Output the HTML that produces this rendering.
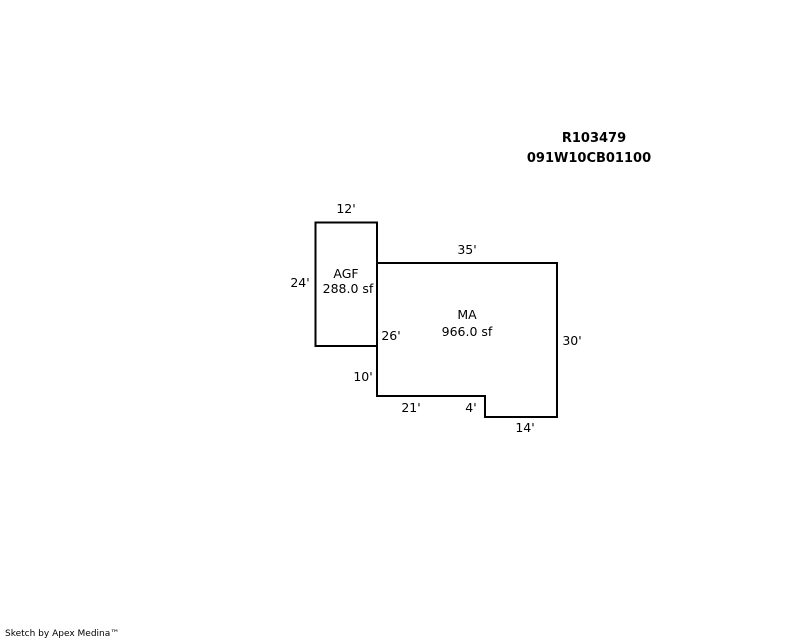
<!DOCTYPE html>
<html><head><style>html,body{margin:0;padding:0;background:#fff;}svg{display:block}</style></head>
<body>
<svg width="800" height="640" xmlns="http://www.w3.org/2000/svg" font-family="DejaVu Sans, Liberation Sans, sans-serif" font-size="12.5" fill="#000">
<g fill="none" stroke="#000" stroke-width="2">
<rect x="315.5" y="222.5" width="61.5" height="123.5"/>
<polyline points="377,263 557,263 557,417 485,417 485,396 377,396 377,263"/>
</g>
<g text-anchor="middle">
<text x="594" y="142" font-weight="bold" font-size="13">R103479</text>
<text x="589" y="162" font-weight="bold" font-size="13">091W10CB01100</text>
<text x="346" y="213">12'</text>
<text x="467" y="254">35'</text>
<text x="300" y="287">24'</text>
<text x="346" y="278">AGF</text>
<text x="348" y="293">288.0 sf</text>
<text x="467" y="319">MA</text>
<text x="467" y="336">966.0 sf</text>
<text x="391" y="340">26'</text>
<text x="572" y="345">30'</text>
<text x="363" y="381">10'</text>
<text x="411" y="412">21'</text>
<text x="471" y="412">4'</text>
<text x="525" y="432">14'</text>
</g>
<text x="5" y="636" font-size="9">Sketch by Apex Medina™</text>
</svg>
</body></html>
